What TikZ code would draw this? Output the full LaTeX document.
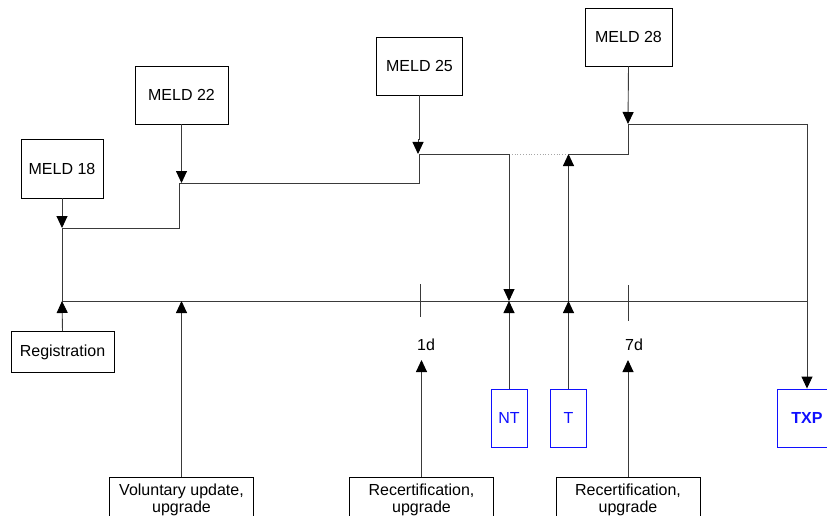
\documentclass[tikz,border=0pt]{standalone}
\usepackage{fontspec}
\setmainfont{Liberation Sans}
\usetikzlibrary{arrows.meta}
\definecolor{linegray}{HTML}{3A3A3A}
\definecolor{tagblue}{HTML}{1010FF}
\tikzset{
  box/.style={draw=black, line width=0.9pt, fill=white, inner sep=0pt, align=center,
              font=\fontsize{16}{17.5}\selectfont},
  meldbox/.style={box, minimum width=87, minimum height=58},
  bluebox/.style={box, draw=tagblue, text=tagblue, minimum width=36, minimum height=58},
  actbox/.style={box, anchor=north, minimum width=144, inner ysep=6pt},
  wire/.style={draw=linegray, line width=0.9pt},
  arr/.style={wire, -{Triangle[length=12pt, width=11pt, color=black, fill=black]}},
  dotline/.style={draw=gray!70, line width=0.8pt, dotted},
  lbl/.style={font=\fontsize{16}{17.5}\selectfont, inner sep=0pt}
}
\begin{document}
\begin{tikzpicture}[x=1pt, y=-1pt]
\useasboundingbox (0,0) rectangle (827,516);
\clip (0,0) rectangle (827,516);

% MELD score boxes
\node[meldbox, minimum width=82, minimum height=59] (m18) at (62,168.5) {MELD 18};
\node[meldbox, minimum width=93] (m22) at (181.5,95) {MELD 22};
\node[meldbox, minimum width=86] (m25) at (419.5,66) {MELD 25};
\node[meldbox] (m28) at (628.5,37) {MELD 28};

% registration and action boxes
\node[box, minimum width=103, minimum height=41] (reg) at (62.5,352) {Registration};
\node[actbox] (vol) at (181.5,477) {Voluntary update,\\upgrade};
\node[actbox] (rc1) at (421.5,477) {Recertification,\\upgrade};
\node[actbox] (rc7) at (628,477) {Recertification,\\upgrade};

% outcome boxes
\node[bluebox] (nt) at (509,418) {NT};
\node[bluebox] (t) at (568.5,418) {T};
\node[bluebox, minimum width=60, font=\fontsize{16}{17.5}\selectfont\bfseries] (txp) at (807,418) {TXP};

% day labels
\node[lbl] (d1) at (426,345) {1d};
\node[lbl] (d7) at (634,345) {7d};

% coordinates of the time line
\coordinate (tl0) at (62,301);
\coordinate (tlE) at (807,301);
\coordinate (tvol) at (181.5,301);
\coordinate (tnt) at (509,301);
\coordinate (tt) at (568.5,301);
\coordinate (k1a) at (420,284);
\coordinate (k1b) at (420,317);
\coordinate (k7a) at (628,285);
\coordinate (k7b) at (628,321);
\coordinate (a1d) at (421.5,360);
\coordinate (a7d) at (628,360);

% coordinates of the MELD step line
\coordinate (s18) at (62,228);
\coordinate (s18r) at (179,228);
\coordinate (s22l) at (179,183);
\coordinate (s22) at (181.5,183);
\coordinate (s25l) at (419,183);
\coordinate (s25) at (419,154);
\coordinate (j25a) at (419.5,139);
\coordinate (j25b) at (418,139);
\coordinate (j25c) at (418,154);
\coordinate (snt) at (509,154);
\coordinate (st) at (568.5,154);
\coordinate (s28l) at (628,154);
\coordinate (s28) at (628,124);
\coordinate (s28r) at (807,124);

% time line and day ticks
\draw[wire] (tl0) -- (tlE);
\draw[wire] (k1a) -- (k1b);
\draw[wire] (k7a) -- (k7b);

% MELD step line
\draw[wire] (s18) -- (tl0);
\draw[wire] (s18) -- (s18r) -- (s22l) -- (s25l) -- (s25) -- (snt);
\draw[dotline] (snt) -- (st);
\draw[wire] (st) -- (s28l) -- (s28) -- (s28r);
\draw[arr] (s28r) -- (txp.north);

% MELD updates onto the step line
\draw[arr] (m18.south) -- (s18);
\draw[arr] (m22.south) -- (s22);
\draw[arr] (m25.south) -- (j25a) -- (j25b) -- (j25c);
\draw[arr] (m28.south) -- (s28);

% events onto the time line
\draw[arr] (reg.north) -- (tl0);
\draw[arr] (vol.north) -- (tvol);
\draw[arr] (rc1.north) -- (a1d);
\draw[arr] (rc7.north) -- (a7d);
\draw[arr] (snt) -- (tnt);
\draw[arr] (nt.north) -- (tnt);
\draw[arr] (t.north) -- (tt);
\draw[arr] (tt) -- (st);
\end{tikzpicture}
\end{document}
